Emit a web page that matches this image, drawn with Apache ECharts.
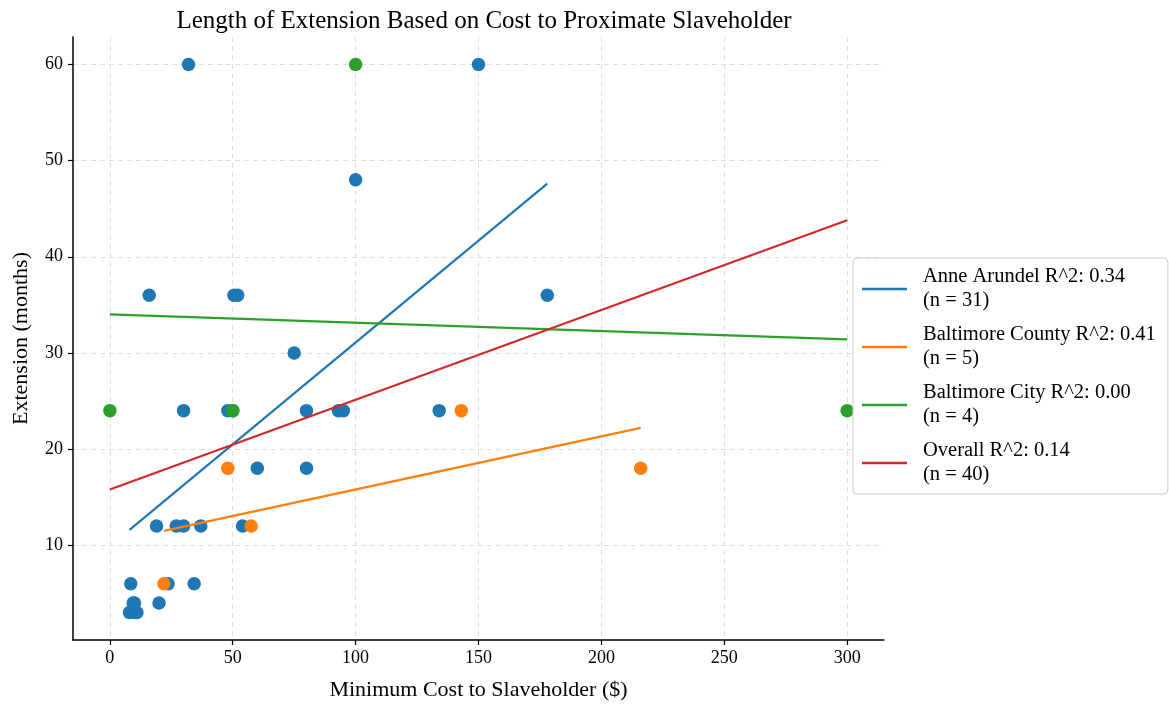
<!DOCTYPE html>
<html><head><meta charset="utf-8">
<script src="https://cdn.jsdelivr.net/npm/echarts@6/dist/echarts.min.js"></script>
<style>html,body{margin:0;padding:0;background:#fff}#c{width:1169px;height:706px}</style>
</head><body><div id="c"></div>
<script>
// ---- data ----
const xTicks = [0, 50, 100, 150, 200, 250, 300];
const yTicks = [10, 20, 30, 40, 50, 60];

const anneArundel = [
  [32, 60], [150, 60], [100, 48], [16, 36], [50.5, 36], [52, 36], [178, 36], [75, 30],
  [30, 24], [48, 24], [50, 24], [80, 24], [93, 24], [95, 24], [134, 24],
  [60, 18], [80, 18],
  [19, 12], [27, 12], [30, 12], [37, 12], [54, 12],
  [8.5, 6], [23.7, 6], [34.3, 6],
  [10, 4], [20, 4],
  [8, 3], [10, 3], [11, 3], [9.5, 4]
];
const baltimoreCounty = [[22, 6], [57.5, 12], [48, 18], [143, 24], [216, 18]];
const baltimoreCity = [[0, 24], [50, 24], [100, 60], [300, 24]];

const anneTrend = [[8, 11.6], [178, 47.6]];
const countyTrend = [[22, 11.5], [216, 22.2]];
const cityTrend = [[0, 34.0], [300, 31.4]];
const overallTrend = [[0, 15.8], [300, 43.8]];

const groupNames = ['Anne Arundel', 'Baltimore County', 'Baltimore City', 'Overall'];
const legendLabels = [
  'Anne Arundel R^2: 0.34\n(n = 31)',
  'Baltimore County R^2: 0.41\n(n = 5)',
  'Baltimore City R^2: 0.00\n(n = 4)',
  'Overall R^2: 0.14\n(n = 40)'
];
const colors = ['#1f77b4', '#ff7f0e', '#2ca02c', '#d62728'];

// ---- chart ----
const FONT = '"Liberation Serif", "DejaVu Serif", serif';
const chart = echarts.init(document.getElementById('c'), null, {renderer: 'canvas'});

function scatter(name, data, color, z) {
  return {type: 'scatter', name: name + ' pts', data, symbolSize: 13.5,
    itemStyle: {color, opacity: 1}, z, silent: true};
}
function trend(name, data, color, z) {
  return {type: 'line', name, data, symbol: 'none', showSymbol: false,
    lineStyle: {color, width: 2.2}, itemStyle: {color}, z, silent: true};
}

const gridLine = {show: true, lineStyle: {color: '#dedede', type: [5, 4], width: 1}};

chart.setOption({
  animation: false,
  backgroundColor: '#fff',
  title: {
    text: 'Length of Extension Based on Cost to Proximate Slaveholder',
    left: 479, top: 4, textAlign: 'center',
    textStyle: {fontFamily: FONT, fontSize: 25, fontWeight: 'normal', color: '#000'}
  },
  grid: {left: 73, right: 285, top: 37, bottom: 66},
  xAxis: {
    type: 'value', min: -15, max: 315,
    name: 'Minimum Cost to Slaveholder ($)', nameLocation: 'middle', nameGap: 39,
    nameTextStyle: {fontFamily: FONT, fontSize: 22, color: '#000'},
    axisLine: {show: true, onZero: false, lineStyle: {color: '#000', width: 1.5}},
    axisTick: {show: true, length: 5, lineStyle: {color: '#000', width: 1.2}, customValues: xTicks},
    axisLabel: {customValues: xTicks, margin: 9, fontFamily: FONT, fontSize: 18, color: '#000'},
    splitLine: gridLine
  },
  yAxis: {
    type: 'value', min: 0.15, max: 62.85,
    name: 'Extension (months)', nameLocation: 'middle', nameGap: 41,
    nameTextStyle: {fontFamily: FONT, fontSize: 22, color: '#000'},
    axisLine: {show: true, onZero: false, lineStyle: {color: '#000', width: 1.5}},
    axisTick: {show: true, length: 5, lineStyle: {color: '#000', width: 1.2}, customValues: yTicks},
    axisLabel: {customValues: yTicks, margin: 10, fontFamily: FONT, fontSize: 18, color: '#000'},
    splitLine: gridLine
  },
  legend: {
    data: groupNames,
    orient: 'vertical', left: 853, top: 258,
    padding: [7, 12, 7, 9], itemGap: 10,
    itemWidth: 45, itemHeight: 2.5, icon: 'rect',
    backgroundColor: 'rgba(255,255,255,0.85)', borderColor: '#cccccc', borderWidth: 1, borderRadius: 4,
    formatter: n => legendLabels[groupNames.indexOf(n)],
    textStyle: {fontFamily: FONT, fontSize: 20.5, lineHeight: 24, color: '#000', padding: [0, 0, 0, 11]},
    selectedMode: false, z: 10
  },
  series: [
    scatter(groupNames[0], anneArundel, colors[0], 2),
    trend(groupNames[0], anneTrend, colors[0], 3),
    scatter(groupNames[1], baltimoreCounty, colors[1], 2),
    trend(groupNames[1], countyTrend, colors[1], 3),
    scatter(groupNames[2], baltimoreCity, colors[2], 2),
    trend(groupNames[2], cityTrend, colors[2], 3),
    trend(groupNames[3], overallTrend, colors[3], 3)
  ]
});
</script></body></html>
